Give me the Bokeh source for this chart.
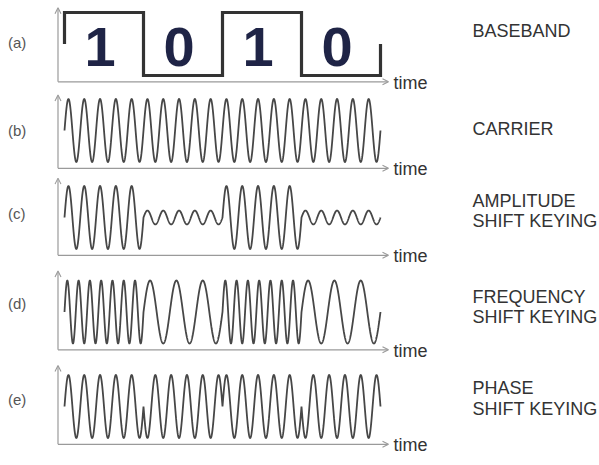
import numpy as np
from bokeh.plotting import figure
from bokeh.models import Range1d, Arrow, OpenHead
from bokeh.core.properties import value
from bokeh.embed import file_html
from bokeh.resources import INLINE

# ---------------- data ----------------
bits = [1, 0, 1, 0]
bit_labels = ["1", "0", "1", "0"]
carrier_cycles = 5                 # carrier cycles per bit
ask_levels = {1: 1.0, 0: 0.22}     # amplitude per bit value
fsk_cycles = {1: 7, 0: 3}          # cycles per bit for each bit value
psk_phase_deg = {1: 0, 0: 180}     # phase per bit value
panel_tags = ["(a)", "(b)", "(c)", "(d)", "(e)"]
panel_names = [["BASEBAND"], ["CARRIER"], ["AMPLITUDE", "SHIFT KEYING"],
               ["FREQUENCY", "SHIFT KEYING"], ["PHASE", "SHIFT KEYING"]]
axis_word = "time"

# ---------------- layout (pixels of the page) ----------------
W, H = 599, 465
PAGE_X0, PAGE_Y0 = 0, 0
BIT_PX = 79.0
T0_REF = 64.0            # page x of t = 0
AMP_PX = 31.5
centers = [43.5, 130, 217, 311.5, 406]
axis_x_ref = 57.5
arrow_tops = [1.15, 1.13, 1.25, 1.3, 1.3]
baseline = -1.2
xaxis_end_ref = 388
time_x_ref = 393
tag_x_ref = 7.5
tag_y_ref = [42, 130, 213, 303, 399]
name_x_ref = 472
name_y_ref = [[30], [128], [200, 220], [296, 316], [387, 408]]

FONT = value("Liberation Sans")


def tx(xref):
    return (xref - T0_REF) / BIT_PX


def ty(i, yref):
    return (centers[i] - yref) / AMP_PX


# ---------------- signals ----------------
N = 600
nb = len(bits)
t_all, carrier, ask, fsk, psk = [], [], [], [], []
for k, b in enumerate(bits):
    t = np.linspace(k, k + 1, N)
    u = t - k
    t_all.append(t)
    carrier.append(np.sin(2 * np.pi * carrier_cycles * t))
    ask.append(ask_levels[b] * np.sin(2 * np.pi * carrier_cycles * t))
    fsk.append(np.sin(2 * np.pi * fsk_cycles[b] * u))
    psk.append(np.sin(2 * np.pi * carrier_cycles * t + np.deg2rad(psk_phase_deg[b])))
t_all = np.concatenate(t_all)
carrier = np.concatenate(carrier)
ask = np.concatenate(ask)
fsk = np.concatenate(fsk)
psk = np.concatenate(psk)

bx, by = [0], [0]
for k, b in enumerate(bits):
    lvl = 1 if b else -1
    bx += [k, k + 1]
    by += [lvl, lvl]
bx.append(nb)
by.append(0)

waves = [None, carrier, ask, fsk, psk]

AXIS_COLOR = "#9a9a9a"
WAVE_COLOR = "#474747"

p = figure(width=W, height=H,
           x_range=Range1d(tx(PAGE_X0), tx(PAGE_X0 + W)),
           y_range=Range1d(0, 1),
           output_backend="svg", toolbar_location=None,
           x_axis_type=None, y_axis_type=None, min_border=0)
p.grid.visible = False
p.outline_line_color = None
p.background_fill_color = "white"
p.border_fill_color = "white"

for i in range(5):
    C = centers[i]
    rn = "panel%d" % i
    p.extra_y_ranges[rn] = Range1d(-(PAGE_Y0 + H - C) / AMP_PX, (C - PAGE_Y0) / AMP_PX)

    ax = tx(axis_x_ref)
    p.add_layout(Arrow(end=OpenHead(size=6, line_color=AXIS_COLOR, line_width=1.1),
                       x_start=ax, y_start=baseline, x_end=tx(xaxis_end_ref), y_end=baseline,
                       line_color=AXIS_COLOR, line_width=1.2, y_range_name=rn))
    p.add_layout(Arrow(end=OpenHead(size=6, line_color=AXIS_COLOR, line_width=1.1),
                       x_start=ax, y_start=baseline, x_end=ax, y_end=arrow_tops[i],
                       line_color=AXIS_COLOR, line_width=1.2, y_range_name=rn))

    if i == 0:
        p.line(bx, by, line_color="#333333", line_width=3.2, line_join="miter", y_range_name=rn)
        p.text(x=[k + 0.5 - 0.05 for k in range(nb)], y=[ty(0, 46)] * nb, text=bit_labels,
               text_font=FONT, text_font_size="56px", text_font_style="bold",
               text_color="#1f2446", text_align="center", text_baseline="middle",
               y_range_name=rn)
    else:
        p.line(t_all, waves[i], line_color=WAVE_COLOR, line_width=1.8, y_range_name=rn)

    p.text(x=[tx(time_x_ref)], y=[baseline - 0.03], text=[axis_word],
           text_font=FONT, text_font_size="18px", text_color="#333333",
           text_align="left", text_baseline="middle", y_range_name=rn)
    p.text(x=[tx(tag_x_ref)], y=[ty(i, tag_y_ref[i])], text=[panel_tags[i]],
           text_font=FONT, text_font_size="15px", text_color="#555555",
           text_align="left", text_baseline="middle", y_range_name=rn)
    names = panel_names[i]
    p.text(x=[tx(name_x_ref)] * len(names), y=[ty(i, yy) for yy in name_y_ref[i]], text=names,
           text_font=FONT, text_font_size="18px", text_color="#333333",
           text_align="left", text_baseline="middle", y_range_name=rn)

open("out.html", "w").write(file_html(p, INLINE))
